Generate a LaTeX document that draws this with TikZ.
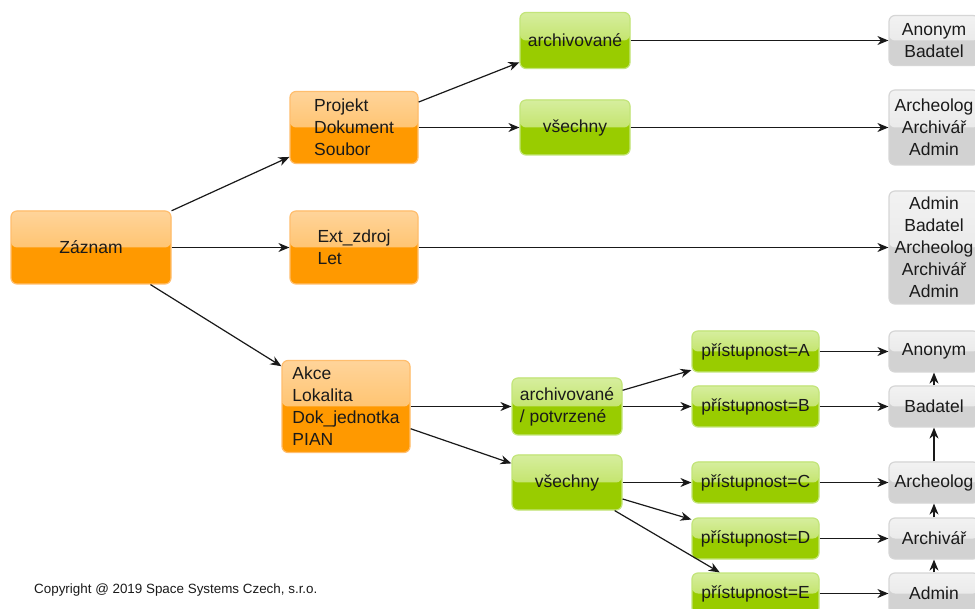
\documentclass[tikz,border=0pt]{standalone}
\usepackage{fontspec}
\setmainfont{Liberation Sans}
\usetikzlibrary{arrows.meta}
\definecolor{obase}{HTML}{FF9900}
\definecolor{otop}{HTML}{FFD49A}
\definecolor{omid}{HTML}{FFB54A}
\definecolor{oborder}{HTML}{FFBE6E}
\definecolor{gbase}{HTML}{99CC00}
\definecolor{gtop}{HTML}{D6EE9E}
\definecolor{gmid}{HTML}{B3DB3F}
\definecolor{gborder}{HTML}{C3E57A}
\definecolor{ybase}{HTML}{D2D2D2}
\definecolor{ytop}{HTML}{F2F2F2}
\definecolor{ymid}{HTML}{E3E3E3}
\definecolor{yborder}{HTML}{D6D6D6}
\definecolor{txt}{HTML}{1A1A1A}
\tikzset{
  box/.style={rounded corners=6pt, line width=1.2pt, inner sep=0pt, align=left,
    font=\fontsize{17.5}{22}\selectfont, text=txt},
  obox/.style={box, draw=oborder, fill=obase,
    path picture={\shade[top color=otop,bottom color=omid] (path picture bounding box.north west) rectangle (path picture bounding box.east);}},
  gbox/.style={box, draw=gborder, fill=gbase,
    path picture={\shade[top color=gtop,bottom color=gmid] (path picture bounding box.north west) rectangle (path picture bounding box.east);}},
  ybox/.style={box, align=center, draw=yborder, fill=ybase, minimum width=90,
    path picture={\shade[top color=ytop,bottom color=ymid] (path picture bounding box.north west) rectangle (path picture bounding box.east);}},
  pbox/.style={gbox, minimum width=127, minimum height=41},
  arr/.style={-{Stealth[length=11pt,width=9pt,inset=3.5pt]}, line width=1.2pt, draw=black!90}
}
\begin{document}
\begin{tikzpicture}[x=1pt,y=-1pt]
\useasboundingbox (0,0) rectangle (975,609);
\clip (0,0) rectangle (975,609);
\fill[white] (0,0) rectangle (975,609);
% orange
\node[obox, minimum width=160, minimum height=73] (zaz) at (91,247.5) {Záznam};
\node[obox, minimum width=128, minimum height=72] (proj) at (354,127.5) {Projekt\\Dokument\\Soubor};
\node[obox, minimum width=128, minimum height=73] (ext) at (354,247.5) {Ext\_zdroj\\Let};
\node[obox, minimum width=128, minimum height=92] (akce) at (346,406.5) {Akce\\Lokalita\\Dok\_jednotka\\PIAN};
% green
\node[gbox, minimum width=110, minimum height=56] (arch1) at (575,40.5) {archivované};
\node[gbox, minimum width=110, minimum height=55] (vse1) at (575,127.5) {všechny};
\node[gbox, minimum width=110, minimum height=57] (arch2) at (567,406.5) {archivované\\/ potvrzené};
\node[gbox, minimum width=110, minimum height=55] (vse2) at (567,482.5) {všechny};
\node[pbox] (pa) at (755.5,351.5) {přístupnost=A};
\node[pbox] (pb) at (755.5,406.5) {přístupnost=B};
\node[pbox] (pc) at (755.5,482.5) {přístupnost=C};
\node[pbox] (pd) at (755.5,538.5) {přístupnost=D};
\node[pbox] (pe) at (755.5,593.5) {přístupnost=E};
% gray
\node[ybox, minimum height=50] (g1) at (934,40.5) {Anonym\\Badatel};
\node[ybox, minimum height=75] (g2) at (934,127.5) {Archeolog\\Archivář\\Admin};
\node[ybox, minimum height=113] (g3) at (934,247.5) {Admin\\Badatel\\Archeolog\\Archivář\\Admin};
\node[ybox, minimum height=41] (ga) at (934,351.5) {Anonym};
\node[ybox, minimum height=41] (gb) at (934,406.5) {Badatel};
\node[ybox, minimum height=41] (gc) at (934,482.5) {Archeolog};
\node[ybox, minimum height=41] (gd) at (934,538.5) {Archivář};
\node[ybox, minimum height=41] (ge) at (934,593.5) {Admin};
% copyright
\node[anchor=west, inner sep=0pt, font=\fontsize{13.4}{15}\selectfont, text=txt] (copy) at (34,590) {Copyright @ 2019 Space Systems Czech, s.r.o.};
% arrows
\draw[arr] (zaz) -- (proj);
\draw[arr] (zaz) -- (ext);
\draw[arr] (zaz) -- (akce);
\draw[arr] (proj) -- (arch1);
\draw[arr] (proj) -- (vse1);
\draw[arr] (arch1) -- (g1);
\draw[arr] (vse1) -- (g2);
\draw[arr] (ext) -- (g3);
\draw[arr] (akce) -- (arch2);
\draw[arr] (akce) -- (vse2);
\draw[arr] (arch2) -- (pa);
\draw[arr] (arch2) -- (pb);
\draw[arr] (vse2) -- (pc);
\draw[arr] (vse2) -- (pd);
\draw[arr] (vse2) -- (pe);
\draw[arr] (pa) -- (ga);
\draw[arr] (pb) -- (gb);
\draw[arr] (pc) -- (gc);
\draw[arr] (pd) -- (gd);
\draw[arr] (pe) -- (ge);
\draw[arr] (gb) -- (ga);
\draw[arr] (gc) -- (gb);
\draw[arr] (gd) -- (gc);
\draw[arr] (ge) -- (gd);
\end{tikzpicture}
\end{document}
